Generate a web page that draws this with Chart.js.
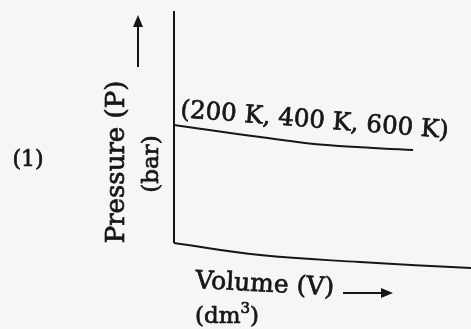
<!DOCTYPE html>
<html>
<head>
<meta charset="utf-8">
<script src="https://cdn.jsdelivr.net/npm/chart.js@4.4.1/dist/chart.umd.min.js"></script>
<style>
  html, body { margin: 0; padding: 0; background: #f6f6f4; }
  #wrap { width: 471px; height: 329px; }
</style>
</head>
<body>
<div id="wrap"><canvas id="grafico"></canvas></div>
<script>
"use strict";
// Datos (escala arbitraria 0..100)
const volumen = [0, 29, 51.5, 80.5];
const presion = [50.9, 45.7, 42.2, 40.1];
// eje inferior escaneado torcido
const baseX = [0, 29, 62.6, 100];
const baseY = [0, -5.2, -8.2, -10.8];
const etiquetaCurva = "(200 K, 400 K, 600 K)";
const tituloY = "Pressure (P)";
const unidadY = "(bar)";
const tituloX = "Volume (V)";
const numeroFigura = "(1)";

const tinta = "#161616";
const fuente = "'DejaVu Serif', 'Liberation Serif', serif";

function flecha(ctx, x1, y1, x2, y2) {
    const ang = Math.atan2(y2 - y1, x2 - x1);
    ctx.beginPath();
    ctx.moveTo(x1, y1);
    ctx.lineTo(x2 - 6 * Math.cos(ang), y2 - 6 * Math.sin(ang));
    ctx.lineWidth = 2;
    ctx.stroke();
    ctx.beginPath();
    ctx.moveTo(x2, y2);
    ctx.lineTo(x2 - 12 * Math.cos(ang) + 5 * Math.sin(ang), y2 - 12 * Math.sin(ang) - 5 * Math.cos(ang));
    ctx.lineTo(x2 - 12 * Math.cos(ang) - 5 * Math.sin(ang), y2 - 12 * Math.sin(ang) + 5 * Math.cos(ang));
    ctx.closePath();
    ctx.fill();
}

// texto con un trazo fino para que se vea como el impreso
function texto(ctx, t, x, y) {
    ctx.lineWidth = 0.7;
    ctx.strokeText(t, x, y);
    ctx.fillText(t, x, y);
}

const textos = {
    id: "textos",
    afterDraw(chart) {
        const ctx = chart.ctx;
        const area = chart.chartArea;
        ctx.save();
        ctx.strokeStyle = tinta;
        ctx.fillStyle = tinta;
        // eje vertical
        ctx.lineWidth = 2;
        ctx.beginPath();
        ctx.moveTo(area.left, area.top);
        ctx.lineTo(area.left, area.bottom);
        ctx.stroke();

        ctx.font = "22px " + fuente;
        ctx.textAlign = "center";
        ctx.textBaseline = "middle";
        texto(ctx, numeroFigura, 28, 160);

        // titulo eje Y
        ctx.save();
        ctx.translate(117, 162);
        ctx.rotate(-Math.PI / 2);
        ctx.font = "26px " + fuente;
        texto(ctx, tituloY, 0, 0);
        ctx.restore();
        ctx.save();
        ctx.translate(152, 164);
        ctx.rotate(-Math.PI / 2);
        ctx.font = "23px " + fuente;
        texto(ctx, unidadY, 0, 0);
        ctx.restore();
        flecha(ctx, 138, 67, 138, 15);

        // etiqueta de la curva
        const meta = chart.getDatasetMeta(0);
        const p0 = meta.data[0];
        ctx.save();
        ctx.translate(p0.x + 6, p0.y - 8);
        ctx.rotate(4.5 * Math.PI / 180);
        ctx.font = "24.5px " + fuente;
        ctx.textAlign = "left";
        ctx.textBaseline = "alphabetic";
        texto(ctx, etiquetaCurva, 0, 0);
        ctx.restore();

        // titulo eje X
        ctx.save();
        ctx.translate(195, 288);
        ctx.rotate(3 * Math.PI / 180);
        ctx.font = "25px " + fuente;
        ctx.textAlign = "left";
        ctx.textBaseline = "alphabetic";
        texto(ctx, tituloX, 0, 0);
        ctx.restore();
        flecha(ctx, 343, 293, 393, 293);

        ctx.textAlign = "left";
        ctx.textBaseline = "alphabetic";
        ctx.font = "23px " + fuente;
        let x = 195;
        texto(ctx, "(dm", x, 323);
        x += ctx.measureText("(dm").width;
        ctx.font = "15px " + fuente;
        texto(ctx, "3", x, 313);
        x += ctx.measureText("3").width;
        ctx.font = "23px " + fuente;
        texto(ctx, ")", x, 323);
        ctx.restore();
    }
};

const ctx = document.getElementById("grafico");
new Chart(ctx, {
    type: "line",
    data: {
        datasets: [{
                label: etiquetaCurva,
                data: volumen.map((v, i) => ({ x: v, y: presion[i] })),
                borderColor: tinta,
                borderWidth: 2,
                pointRadius: 0,
                tension: 0.4,
                fill: false
            }, {
                label: "eje",
                data: baseX.map((v, i) => ({ x: v, y: baseY[i] })),
                borderColor: tinta,
                borderWidth: 2,
                pointRadius: 0,
                tension: 0.4,
                clip: false,
                fill: false
            }]
    },
    options: {
        responsive: true,
        maintainAspectRatio: false,
        animation: false,
        layout: { padding: { left: 174, top: 11, right: 0, bottom: 86 } },
        plugins: { legend: { display: false }, tooltip: { enabled: false } },
        scales: {
            x: { type: "linear", min: 0, max: 100, display: false },
            y: { type: "linear", min: 0, max: 100, display: false }
        }
    },
    plugins: [textos]
});
</script>
</body>
</html>
